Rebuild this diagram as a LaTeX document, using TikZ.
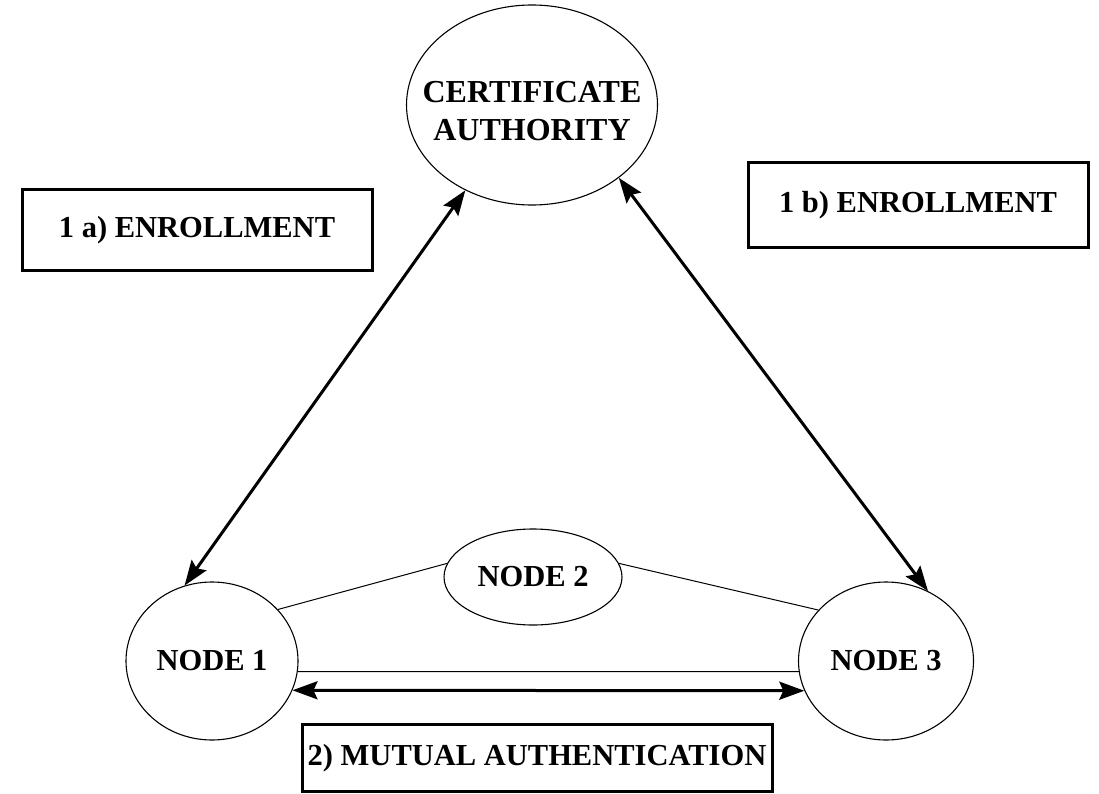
\documentclass[tikz,border=0pt]{standalone}
\usepackage{fontspec}
\setmainfont{Liberation Serif}
\usetikzlibrary{shapes.geometric,arrows.meta}
\begin{document}
\begin{tikzpicture}[x=1pt,y=-1pt,
  lbl/.style={font=\fontsize{30.5}{38}\selectfont\bfseries, align=center},
  party/.style={ellipse, draw, line width=1.1pt, inner sep=0pt, lbl},
  tag/.style={rectangle, draw, line width=3pt, inner sep=0pt, lbl},
  link/.style={line width=1pt},
  flow/.style={line width=3pt, {Stealth[length=25pt,width=18pt,inset=4pt]}-{Stealth[length=25pt,width=18pt,inset=4pt]}}]
\useasboundingbox (0,0) rectangle (1099,794);
% entities
\node[party, minimum width=251pt, minimum height=200pt] (ca) at (532,105) {};
\node[lbl, font=\fontsize{32}{38}\selectfont\bfseries] (catext) at ([yshift=-6pt]ca.center) {CERTIFICATE\\AUTHORITY};
\node[party, minimum width=172pt, minimum height=158pt] (n1) at (212,661) {NODE 1};
\node[party, minimum width=178pt, minimum height=96pt] (n2) at (533,577) {NODE 2};
\node[party, minimum width=175pt, minimum height=158pt] (n3) at (886,661) {NODE 3};
% step labels
\node[tag, minimum width=350pt, minimum height=80pt] (ea) at (197,230) {1 a) ENROLLMENT};
\node[tag, minimum width=340pt, minimum height=85pt] (eb) at (918,205) {1 b) ENROLLMENT};
\node[tag, minimum width=470pt, minimum height=67pt] (ma) at (537,758) {2) MUTUAL AUTHENTICATION};
% plain links between the nodes
\draw[link] (n1.38) -- (n2.171);
\draw[link] (n2.9) -- (n3.143);
\draw[link] (n1.-7) -- (n3.187);
% enrollment and authentication exchanges
\draw[flow] (ca.232) -- (n1.110);
\draw[flow] (ca.320) -- (n3.59);
\draw[flow] (n1.-20) -- (n3.200);
\end{tikzpicture}
\end{document}
